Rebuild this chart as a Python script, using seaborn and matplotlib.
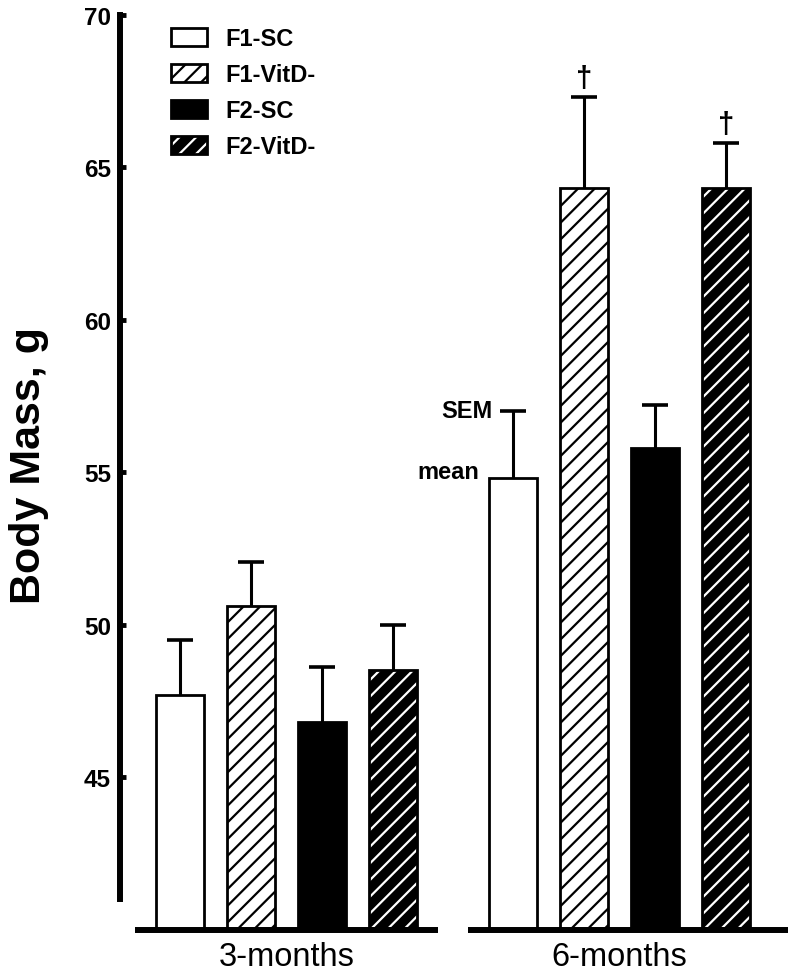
import numpy as np
import pandas as pd
import seaborn as sns
import matplotlib.pyplot as plt
import matplotlib.colors as mcolors
from matplotlib.patches import Patch

# ---------------- data ----------------
ages = ["3-months", "6-months"]
groups = ["F1-SC", "F1-VitD-", "F2-SC", "F2-VitD-"]
mean_3m = [47.7, 50.6, 46.8, 48.5]
sem_3m = [1.8, 1.45, 1.8, 1.5]
mean_6m = [54.8, 64.3, 55.8, 64.3]
sem_6m = [2.2, 3.0, 1.4, 1.5]
dagger_bars = [("6-months", "F1-VitD-"), ("6-months", "F2-VitD-")]
yticks = [45, 50, 55, 60, 65, 70]
ylabel = "Body Mass, g"

# ---------------- style ----------------
sns.set_style("white")
plt.rcParams['font.family'] = ['Liberation Sans', 'DejaVu Sans']
plt.rcParams['text.color'] = 'black'
plt.rcParams['axes.labelcolor'] = 'black'
plt.rcParams['xtick.color'] = 'black'
plt.rcParams['ytick.color'] = 'black'
plt.rcParams['hatch.linewidth'] = 1.6

face = {"F1-SC": "white", "F1-VitD-": "white", "F2-SC": "black", "F2-VitD-": "black"}
hatches = {"F1-SC": "", "F1-VitD-": "//", "F2-SC": "", "F2-VitD-": "//"}
white_hatch = {"F2-VitD-"}

df = pd.DataFrame({
    "age": np.repeat(ages, len(groups)),
    "group": groups * len(ages),
    "mass": mean_3m + mean_6m,
    "sem": sem_3m + sem_6m,
})

fig = plt.figure(figsize=(7.96, 9.78), dpi=100)
ax = fig.add_axes([120 / 796, 47.4 / 978, 676 / 796, 915 / 978])

total_w = 0.855
sns.barplot(data=df, x="age", y="mass", hue="group", order=ages, hue_order=groups,
            palette=face, saturation=1, edgecolor="black", linewidth=2.0,
            width=total_w, gap=0.32, errorbar=None, legend=False, ax=ax)


def whiten_hatch(p):
    p.set_edgecolor("black")
    if hasattr(p, "set_hatchcolor"):
        p.set_hatchcolor("white")
    else:
        p._hatch_color = mcolors.to_rgba("white")


slot = total_w / len(groups)
lookup = df.set_index(["age", "group"])
bar_info = {}
for p in list(ax.patches):
    xc = p.get_x() + p.get_width() / 2
    cat = int(round(xc))
    hi = int(round((xc - cat) / slot + (len(groups) - 1) / 2))
    g = groups[hi]
    a = ages[cat]
    p.set_hatch(hatches[g])
    p.set_linewidth(2.0)
    if g in white_hatch:
        whiten_hatch(p)
    top = p.get_height()
    s = lookup.loc[(a, g), "sem"]
    bar_info[(a, g)] = (xc, top, s, p)
    eb = ax.errorbar([xc], [top], yerr=[[0], [s]], fmt="none", ecolor="black",
                     elinewidth=2.2, capsize=9.4, capthick=2.6, zorder=3)
    # keep only the upper cap
    for cl in eb[1]:
        if np.all(np.asarray(cl.get_ydata()) <= top + 1e-9):
            cl.set_visible(False)

# dagger marks
for key in dagger_bars:
    xc, top, s, p = bar_info[key]
    ax.annotate("\u2020", (xc, top + s), xytext=(0, 8), textcoords="offset points",
                ha="center", va="baseline", fontsize=21, fontweight="bold")

# mean / SEM annotation on 6-months F1-SC
xc, top, s, p = bar_info[("6-months", "F1-SC")]
ax.annotate("mean", (p.get_x(), top), xytext=(-6.5, 0), textcoords="offset points",
            ha="right", va="baseline", fontsize=17, fontweight="bold")
ax.annotate("SEM", (xc, top + s), xytext=(-14.8, -4), textcoords="offset points",
            ha="right", va="baseline", fontsize=17, fontweight="bold")

# axes
ax.set_ylim(40, 70)
ax.set_xlim(-0.5, 1.53)
ax.set_yticks(yticks)
ax.set_yticklabels([str(t) for t in yticks], fontsize=17.5, fontweight="bold")
ax.set_xticks(range(len(ages)))
ax.set_xticklabels(ages, fontsize=23.5)
ax.tick_params(axis="y", left=True, direction="in", length=4, width=3.5, pad=6.5)
ax.tick_params(axis="x", bottom=False, length=0, pad=8)
ax.set_xlabel("")
ax.set_ylabel(ylabel, fontsize=31, fontweight="bold")
ax.yaxis.set_label_coords(-0.105, 0.5078)

for side in ["top", "right", "bottom"]:
    ax.spines[side].set_visible(False)
ax.spines["left"].set_linewidth(4.3)
ax.spines["left"].set_color("black")
ax.spines["left"].set_bounds(41, 70)

# broken baseline under each group
for seg in [(-0.455, 0.455), (0.545, 1.505)]:
    ax.plot(seg, [40, 40], color="black", lw=4.3, clip_on=False,
            solid_capstyle="butt", zorder=4)

# legend
handles = []
for g in groups:
    h = Patch(facecolor=face[g], edgecolor="black", hatch=hatches[g], linewidth=2.0, label=g)
    if g in white_hatch:
        whiten_hatch(h)
    handles.append(h)
ax.legend(handles=handles, loc="upper left", bbox_to_anchor=(171 / 796, 1 - 28 / 978),
          bbox_transform=fig.transFigure, frameon=False, borderpad=0, borderaxespad=0,
          handlelength=1.53, handleheight=0.8, handletextpad=0.76, labelspacing=0.55,
          prop={"size": 17, "weight": "bold"})

fig.savefig("out.png", dpi=100)
